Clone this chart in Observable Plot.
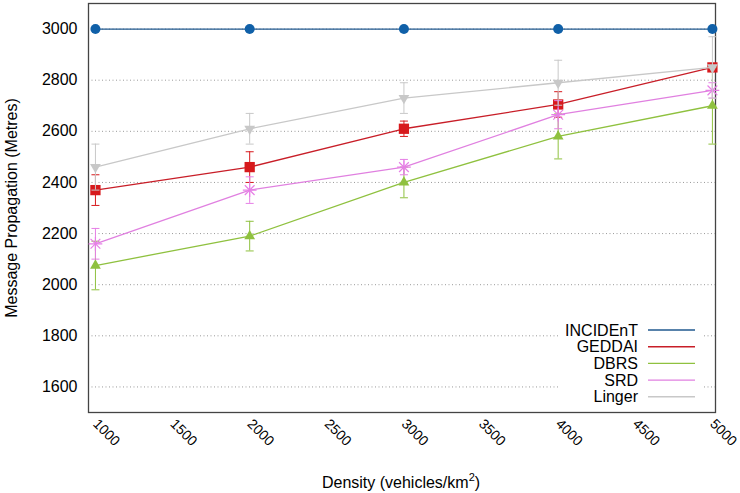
<!DOCTYPE html>
<html>
<head>
<meta charset="utf-8">
<script src="https://cdn.jsdelivr.net/npm/d3@7"></script>
<script src="https://cdn.jsdelivr.net/npm/@observablehq/plot@0.6"></script>
<style>
  body { margin: 0; background: white; }
</style>
</head>
<body>
<div id="wrap"></div>
<script>
const densities = [1000, 2000, 3000, 4000, 5000];
const seriesNames = ["INCIDEnT", "GEDDAI", "DBRS", "SRD", "Linger"];
const incident = [3000, 3000, 3000, 3000, 3000];
const incidentErr = [0, 0, 0, 0, 0];
const geddai = [2370, 2460, 2610, 2705, 2850];
const geddaiErr = [60, 60, 30, 50, 15];
const dbrs = [2075, 2190, 2400, 2580, 2700];
const dbrsErr = [95, 58, 60, 88, 150];
const srd = [2160, 2370, 2460, 2665, 2760];
const srdErr = [60, 52, 30, 55, 30];
const linger = [2460, 2610, 2730, 2790, 2850];
const lingerErr = [90, 60, 60, 88, 120];
const xTicks = [1000, 1500, 2000, 2500, 3000, 3500, 4000, 4500, 5000];
const yTicks = [1600, 1800, 2000, 2200, 2400, 2600, 2800, 3000];
const colors = ["#1060a8", "#d7191c", "#8fc13f", "#e67fe6", "#c8c8c8"];
const lineColors = ["#20598f", "#c81e28", "#8fc13f", "#e080e0", "#c8c8c8"];
const yTitle = "Message Propagation (Metres)";
const xTitle = "Density (vehicles/km";

const values = [incident, geddai, dbrs, srd, linger];
const errs = [incidentErr, geddaiErr, dbrsErr, srdErr, lingerErr];
const FONT = "'Liberation Sans', Arial, Helvetica, sans-serif";

const triDown = {
  draw(context, size) {
    const s3 = Math.sqrt(3);
    const y = -Math.sqrt(size / (s3 * 3));
    context.moveTo(0, -y * 2);
    context.lineTo(-s3 * y, y);
    context.lineTo(s3 * y, y);
    context.closePath();
  }
};
const capSym = {
  draw(context, size) {
    context.moveTo(-4, 0);
    context.lineTo(4, 0);
  }
};

const fmt = d3.format("d");
const marks = [
  Plot.gridY(yTicks, {stroke: "#9a9a9a", strokeOpacity: 1, strokeDasharray: "1,2.5"}),
  Plot.axisY(yTicks, {tickSize: 0, tickPadding: 11, fontSize: 16, tickFormat: fmt, label: null}),
  Plot.axisX(xTicks, {tickSize: 0, tickPadding: 9, tickRotate: 45, fontSize: 14, tickFormat: fmt, label: null}),
  Plot.frame({stroke: "#444", strokeWidth: 1.3})
];

seriesNames.forEach((name, i) => {
  const data = densities.map((d, j) => ({x: d, y: values[i][j], lo: values[i][j] - errs[i][j], hi: values[i][j] + errs[i][j]}));
  const c = colors[i];
  if (i > 0) {
    marks.push(Plot.ruleX(data, {x: "x", y1: "lo", y2: "hi", stroke: c, strokeWidth: 1}));
    marks.push(Plot.dot(data, {x: "x", y: "lo", symbol: capSym, r: 3, stroke: c, strokeWidth: 1}));
    marks.push(Plot.dot(data, {x: "x", y: "hi", symbol: capSym, r: 3, stroke: c, strokeWidth: 1}));
  }
  marks.push(Plot.line(data, {x: "x", y: "y", stroke: lineColors[i], strokeWidth: 1.3}));
  if (name === "INCIDEnT") marks.push(Plot.dot(data, {x: "x", y: "y", symbol: "circle", r: 5, fill: c}));
  if (name === "GEDDAI") marks.push(Plot.dot(data, {x: "x", y: "y", symbol: "square", r: 5.8, fill: c}));
  if (name === "DBRS") marks.push(Plot.dot(data, {x: "x", y: "y", symbol: "triangle", r: 4, fill: c}));
  if (name === "SRD") {
    marks.push(Plot.dot(data, {x: "x", y: "y", symbol: "plus", r: 4.5, stroke: c, strokeWidth: 1.2}));
    marks.push(Plot.dot(data, {x: "x", y: "y", symbol: "times", r: 4.5, stroke: c, strokeWidth: 1.2}));
  }
  if (name === "Linger") marks.push(Plot.dot(data, {x: "x", y: "y", symbol: triDown, r: 4, fill: c}));
});

const chart = Plot.plot({
  width: 740, height: 493,
  marginLeft: 88, marginRight: 25, marginTop: 3, marginBottom: 81,
  style: {fontFamily: FONT, fontSize: "16px", color: "#000", background: "white", overflow: "visible"},
  x: {domain: [955, 5020]},
  y: {domain: [1500, 3100]},
  marks
});
document.getElementById("wrap").appendChild(chart);

const svg = d3.select(chart);
// axis titles
svg.append("text")
  .attr("transform", "translate(17,208) rotate(-90)")
  .attr("text-anchor", "middle")
  .style("font-family", FONT).style("font-size", "16px").attr("fill", "#000")
  .text(yTitle);
const xt = svg.append("text")
  .attr("x", 401).attr("y", 488)
  .attr("text-anchor", "middle")
  .style("font-family", FONT).style("font-size", "16px").attr("fill", "#000");
xt.append("tspan").text(xTitle);
xt.append("tspan").attr("dy", -7).style("font-size", "11px").text("2");
xt.append("tspan").attr("dy", 7).text(")");

// legend
const lg = svg.append("g");
lg.append("rect").attr("x", 558).attr("y", 322).attr("width", 145).attr("height", 83).attr("fill", "white");
seriesNames.forEach((name, i) => {
  const cy = 330 + i * 16.7;
  lg.append("text").attr("x", 638).attr("y", cy + 5.5).attr("text-anchor", "end")
    .style("font-family", FONT).style("font-size", "16px").attr("fill", "#000").text(name);
  lg.append("line").attr("x1", 648).attr("x2", 695).attr("y1", cy).attr("y2", cy)
    .attr("stroke", lineColors[i]).attr("stroke-width", 1.4);
});
</script>
</body>
</html>
